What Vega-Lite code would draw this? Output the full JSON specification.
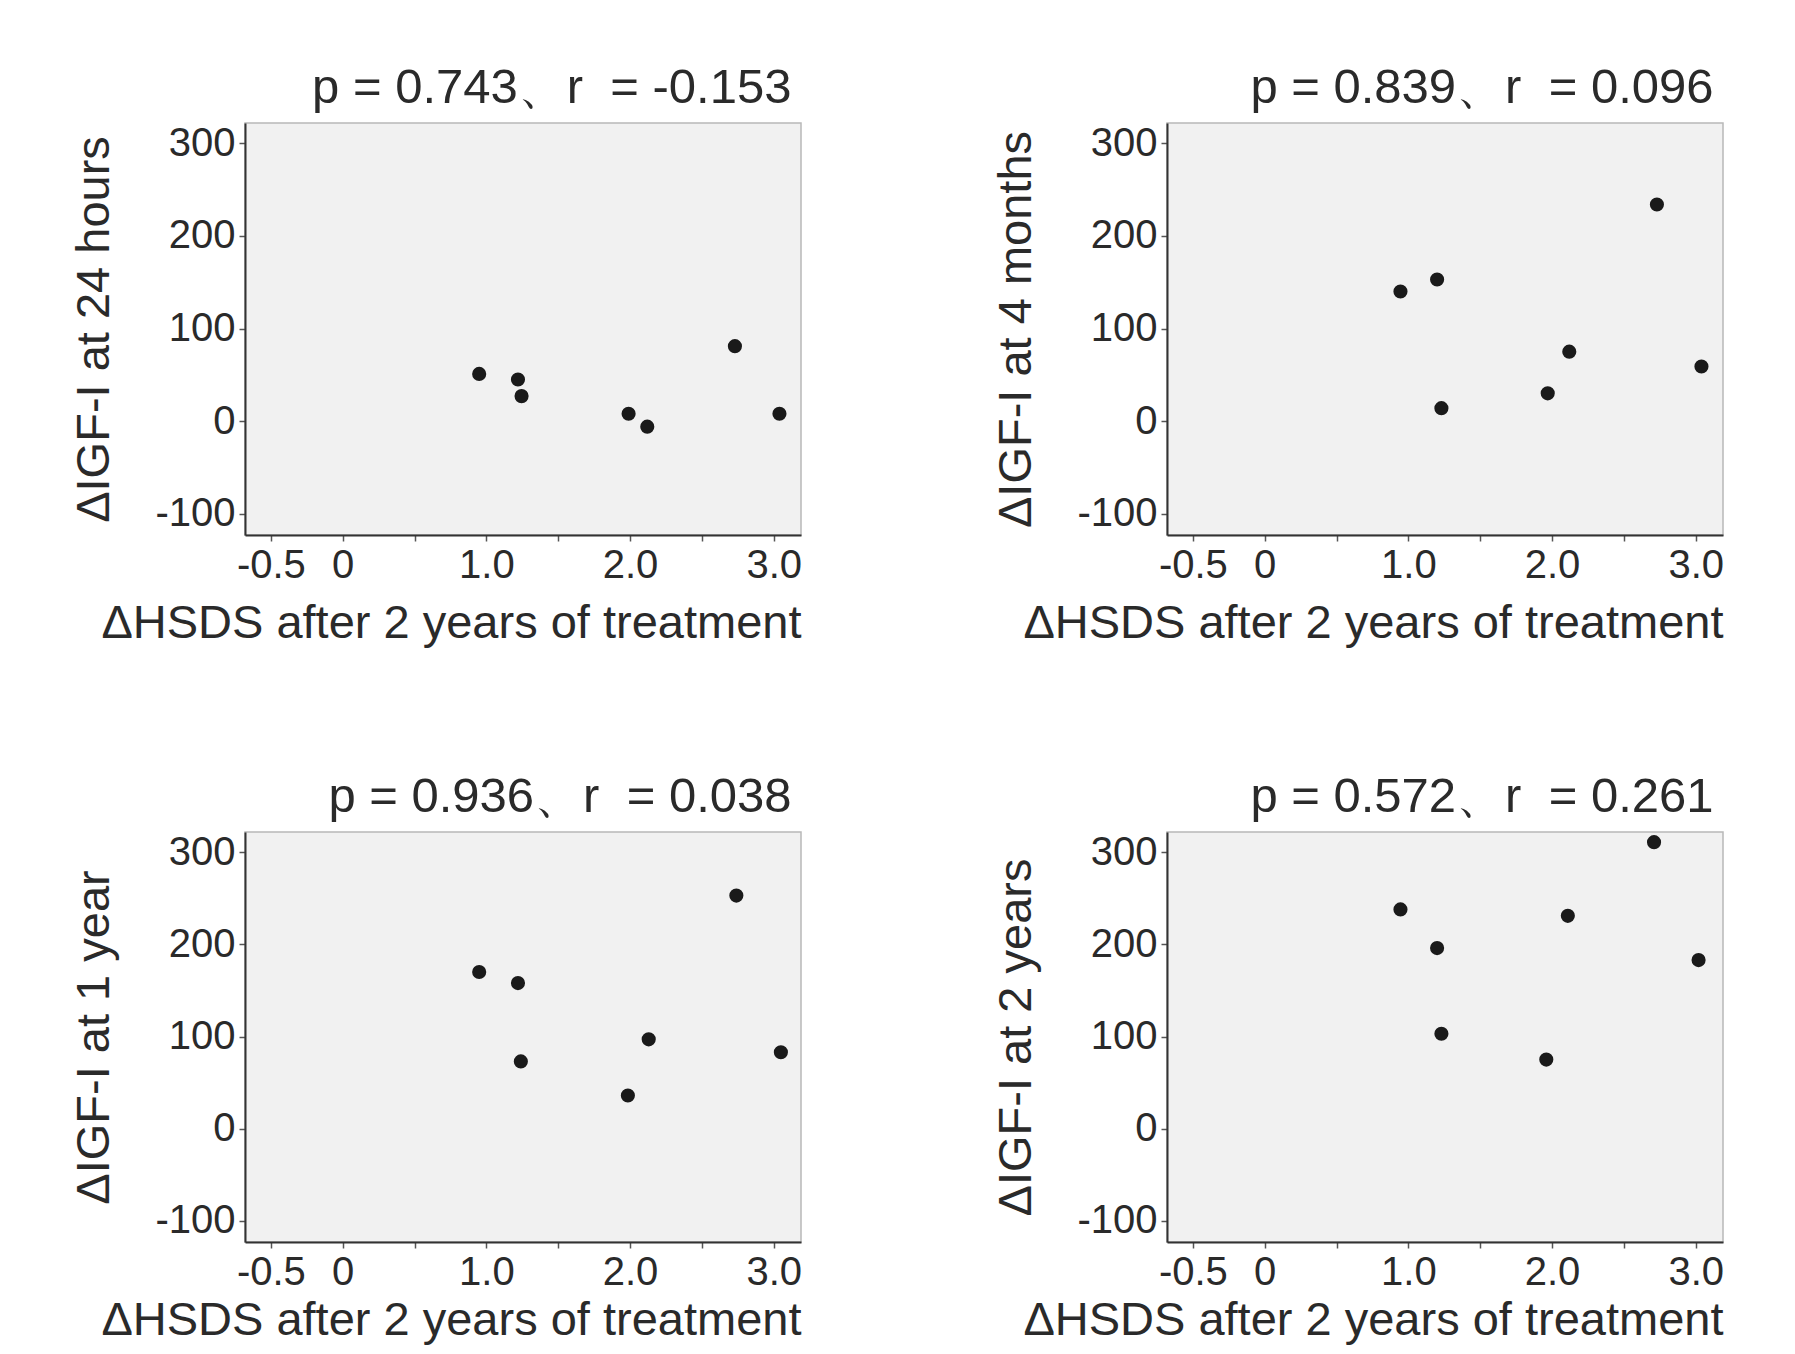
{
  "$schema": "https://vega.github.io/schema/vega-lite/v6.json",
  "background": "white",
  "padding": {"left": 70, "top": 63, "right": 10, "bottom": 4},
  "data": {"values": [
    {"panel": "24h", "x": 0.95, "y": 51},
    {"panel": "24h", "x": 1.22, "y": 45},
    {"panel": "24h", "x": 1.245, "y": 27},
    {"panel": "24h", "x": 1.99, "y": 8},
    {"panel": "24h", "x": 2.12, "y": -6},
    {"panel": "24h", "x": 2.73, "y": 81},
    {"panel": "24h", "x": 3.04, "y": 8},
    {"panel": "4m", "x": 0.945, "y": 140},
    {"panel": "4m", "x": 1.2, "y": 153},
    {"panel": "4m", "x": 1.23, "y": 14},
    {"panel": "4m", "x": 1.97, "y": 30},
    {"panel": "4m", "x": 2.12, "y": 75},
    {"panel": "4m", "x": 2.73, "y": 234},
    {"panel": "4m", "x": 3.04, "y": 59},
    {"panel": "1y", "x": 0.95, "y": 170},
    {"panel": "1y", "x": 1.22, "y": 158},
    {"panel": "1y", "x": 1.24, "y": 73},
    {"panel": "1y", "x": 1.985, "y": 36},
    {"panel": "1y", "x": 2.13, "y": 97},
    {"panel": "1y", "x": 2.74, "y": 253},
    {"panel": "1y", "x": 3.05, "y": 83},
    {"panel": "2y", "x": 0.945, "y": 238},
    {"panel": "2y", "x": 1.2, "y": 196},
    {"panel": "2y", "x": 1.23, "y": 103},
    {"panel": "2y", "x": 1.96, "y": 75},
    {"panel": "2y", "x": 2.11, "y": 231},
    {"panel": "2y", "x": 2.71, "y": 311},
    {"panel": "2y", "x": 3.02, "y": 183}
  ]},
  "columns": 2,
  "spacing": {"row": 125, "column": 189},
  "concat": [
    {
      "width": 556, "height": 412,
      "title": {"text": "p = 0.743、r\u00a0 = -0.153"},
      "transform": [{"filter": "datum.panel === '24h'"}],
      "mark": {"type": "circle", "size": 200, "color": "#1a1a1a", "opacity": 1},
      "encoding": {
        "x": {"field": "x", "type": "quantitative", "title": "ΔHSDS after 2 years of treatment",
          "scale": {"domain": [-0.68, 3.19], "nice": false, "zero": false},
          "axis": {"values": [-0.5, 0, 0.5, 1, 1.5, 2, 2.5, 3], "labelExpr": "datum.value == 0 ? '0' : (datum.value == 0.5 || datum.value == 1.5 || datum.value == 2.5) ? '' : (datum.value == -0.5 ? '-0.5' : format(datum.value, '.1f'))"}},
        "y": {"field": "y", "type": "quantitative", "title": "ΔIGF-I at 24 hours",
          "scale": {"domain": [-123, 322], "nice": false, "zero": false},
          "axis": {"values": [-100, 0, 100, 200, 300], "labelExpr": "'' + datum.value"}}
      }
    },
    {
      "width": 556, "height": 412,
      "title": {"text": "p = 0.839、r\u00a0 = 0.096"},
      "transform": [{"filter": "datum.panel === '4m'"}],
      "mark": {"type": "circle", "size": 200, "color": "#1a1a1a", "opacity": 1},
      "encoding": {
        "x": {"field": "x", "type": "quantitative", "title": "ΔHSDS after 2 years of treatment",
          "scale": {"domain": [-0.68, 3.19], "nice": false, "zero": false},
          "axis": {"values": [-0.5, 0, 0.5, 1, 1.5, 2, 2.5, 3], "labelExpr": "datum.value == 0 ? '0' : (datum.value == 0.5 || datum.value == 1.5 || datum.value == 2.5) ? '' : (datum.value == -0.5 ? '-0.5' : format(datum.value, '.1f'))"}},
        "y": {"field": "y", "type": "quantitative", "title": "ΔIGF-I at 4 months",
          "scale": {"domain": [-123, 322], "nice": false, "zero": false},
          "axis": {"values": [-100, 0, 100, 200, 300], "labelExpr": "'' + datum.value"}}
      }
    },
    {
      "width": 556, "height": 410,
      "title": {"text": "p = 0.936、r\u00a0 = 0.038"},
      "transform": [{"filter": "datum.panel === '1y'"}],
      "mark": {"type": "circle", "size": 200, "color": "#1a1a1a", "opacity": 1},
      "encoding": {
        "x": {"field": "x", "type": "quantitative", "title": "ΔHSDS after 2 years of treatment",
          "scale": {"domain": [-0.68, 3.19], "nice": false, "zero": false},
          "axis": {"titlePadding": 5, "values": [-0.5, 0, 0.5, 1, 1.5, 2, 2.5, 3], "labelExpr": "datum.value == 0 ? '0' : (datum.value == 0.5 || datum.value == 1.5 || datum.value == 2.5) ? '' : (datum.value == -0.5 ? '-0.5' : format(datum.value, '.1f'))"}},
        "y": {"field": "y", "type": "quantitative", "title": "ΔIGF-I at 1 year",
          "scale": {"domain": [-123, 322], "nice": false, "zero": false},
          "axis": {"values": [-100, 0, 100, 200, 300], "labelExpr": "'' + datum.value"}}
      }
    },
    {
      "width": 556, "height": 410,
      "title": {"text": "p = 0.572、r\u00a0 = 0.261"},
      "transform": [{"filter": "datum.panel === '2y'"}],
      "mark": {"type": "circle", "size": 200, "color": "#1a1a1a", "opacity": 1},
      "encoding": {
        "x": {"field": "x", "type": "quantitative", "title": "ΔHSDS after 2 years of treatment",
          "scale": {"domain": [-0.68, 3.19], "nice": false, "zero": false},
          "axis": {"titlePadding": 5, "values": [-0.5, 0, 0.5, 1, 1.5, 2, 2.5, 3], "labelExpr": "datum.value == 0 ? '0' : (datum.value == 0.5 || datum.value == 1.5 || datum.value == 2.5) ? '' : (datum.value == -0.5 ? '-0.5' : format(datum.value, '.1f'))"}},
        "y": {"field": "y", "type": "quantitative", "title": "ΔIGF-I at 2 years",
          "scale": {"domain": [-123, 322], "nice": false, "zero": false},
          "axis": {"values": [-100, 0, 100, 200, 300], "labelExpr": "'' + datum.value"}}
      }
    }
  ],
  "resolve": {"scale": {"x": "independent", "y": "independent"}},
  "config": {
    "font": "Liberation Sans",
    "view": {"fill": "#f1f1f1", "stroke": "#b8b8b8", "strokeWidth": 1.5},
    "title": {"anchor": "end", "fontSize": 49, "font": "Liberation Sans", "fontWeight": "normal", "color": "#2a2a2a", "offset": 10, "dx": -10},
    "axis": {
      "grid": false,
      "domainColor": "#333333", "domainWidth": 2,
      "tickColor": "#555555", "tickSize": 6, "tickWidth": 1.5,
      "labelFont": "Liberation Sans", "labelFontSize": 40, "labelColor": "#2a2a2a",
      "titleFont": "Liberation Sans", "titleFontSize": 47, "titleFontWeight": "normal", "titleColor": "#2a2a2a",
      "labelOverlap": false
    },
    "axisX": {"labelPadding": 4, "titlePadding": 15, "titleAnchor": "end", "labelFlush": false},
    "axisY": {"labelPadding": 4, "titlePadding": 36}
  }
}
